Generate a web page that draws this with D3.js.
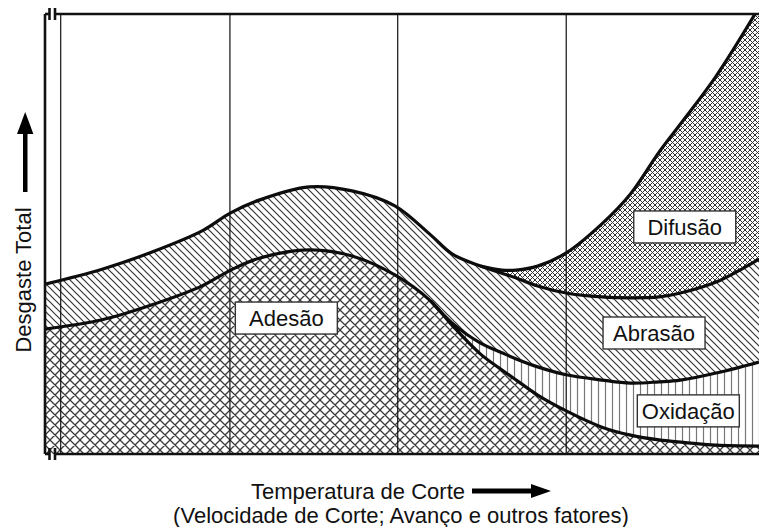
<!DOCTYPE html>
<html>
<head>
<meta charset="utf-8">
<script src="https://cdn.jsdelivr.net/npm/d3@7"></script>
<style>
  body { margin: 0; background: #fff; }
  svg text { font-family: "Liberation Sans", Arial, sans-serif; fill: #111; }
</style>
</head>
<body>
<svg id="chart" width="759" height="527"></svg>
<script>
// temperature axis (arbitrary units 0-100) and cumulative wear tops of each mechanism
const tempX    = [0, 8, 15, 22, 26, 30, 37, 43, 49, 54, 57, 61, 64, 66, 69, 73, 78, 82, 86, 89, 94, 100];
const adesao   = [28.4, 30.5, 33.9, 38.2, 41.8, 44.5, 46.4, 45.0, 40.7, 34.8, 29.3, 22.7, 19.1, 16.8, 13.4, 9.8, 6.1, 4.3, 3.2, 2.7, 2.0, 1.8];
const oxidacao = [28.4, 30.5, 33.9, 38.2, 41.8, 44.5, 46.4, 45.0, 40.7, 34.8, 29.8, 25.2, 23.0, 21.6, 19.8, 18.0, 16.8, 16.1, 16.4, 16.8, 18.4, 20.9];
const abrasao  = [38.6, 42.0, 45.9, 50.7, 54.8, 57.7, 60.7, 59.8, 56.4, 49.8, 45.5, 42.7, 41.1, 40.0, 38.2, 36.6, 35.7, 35.5, 35.7, 36.6, 39.1, 44.3];
const difusao  = [38.6, 42.0, 45.9, 50.7, 54.8, 57.7, 60.7, 59.8, 56.4, 49.8, 45.5, 42.7, 41.8, 41.8, 42.7, 45.7, 52.3, 59.1, 68.6, 75.0, 85.9, 101.5];

const dividers = [2.2, 25.9, 49.4, 73.0];

const labelNames = ["Adesão", "Difusão", "Abrasão", "Oxidação"];
const labelTemp  = [33.8, 89.6, 85.3, 90.1];
const labelWear  = [30.9, 51.6, 27.5, 9.8];

const svg = d3.select("#chart");
const pLeft = 45, pRight = 759, pTop = 14, pBottom = 454;

const x = d3.scaleLinear().domain([0, 100]).range([pLeft, pRight]);
const y = d3.scaleLinear().domain([0, 100]).range([pBottom, pTop]);

const defs = svg.append("defs");
defs.append("clipPath").attr("id", "plotClip")
  .append("rect").attr("x", pLeft).attr("y", pTop)
  .attr("width", pRight - pLeft).attr("height", pBottom - pTop);

function crossPattern(id, s, color, w) {
  defs.append("pattern").attr("id", id)
    .attr("patternUnits", "userSpaceOnUse").attr("width", s).attr("height", s)
    .append("path")
    .attr("d", `M${-s},${-s}L${2*s},${2*s} M0,${-s}L${2*s},${s} M${-s},0L${s},${2*s}` +
               ` M${2*s},${-s}L${-s},${2*s} M${s},${-s}L${-s},${s} M${2*s},0L0,${2*s}`)
    .attr("stroke", color).attr("stroke-width", w).attr("fill", "none");
}
crossPattern("pAdesao", 10, "#3a3a3a", 1.3);
crossPattern("pDifusao", 5, "#333", 1.0);

defs.append("pattern").attr("id", "pAbrasao")
  .attr("patternUnits", "userSpaceOnUse").attr("width", 7).attr("height", 7)
  .append("path")
  .attr("d", "M-7,-7L14,14 M0,-7L14,7 M-7,0L7,14")
  .attr("stroke", "#333").attr("stroke-width", 1.2).attr("fill", "none");

defs.append("pattern").attr("id", "pOxidacao")
  .attr("patternUnits", "userSpaceOnUse").attr("width", 7).attr("height", 7)
  .append("path")
  .attr("d", "M3.5,-1V8")
  .attr("stroke", "#777").attr("stroke-width", 1.2).attr("fill", "none");

const rows = tempX.map((t, i) => ({
  t, a: adesao[i], o: oxidacao[i], b: abrasao[i], d: difusao[i]
}));

const curve = d3.curveCatmullRom.alpha(0.5);
const band = (lo, hi) => d3.area().curve(curve)
  .x(d => x(d.t)).y0(d => lo === null ? y(0) : y(d[lo])).y1(d => y(d[hi]));

const plot = svg.append("g").attr("clip-path", "url(#plotClip)");
plot.append("rect").attr("x", pLeft).attr("y", pTop)
  .attr("width", pRight - pLeft).attr("height", pBottom - pTop).attr("fill", "#fff");

plot.append("path").datum(rows).attr("d", band(null, "a")).attr("fill", "url(#pAdesao)");
plot.append("path").datum(rows).attr("d", band("a", "o")).attr("fill", "url(#pOxidacao)");
plot.append("path").datum(rows).attr("d", band("o", "b")).attr("fill", "url(#pAbrasao)");
plot.append("path").datum(rows).attr("d", band("b", "d")).attr("fill", "url(#pDifusao)");

// vertical dividers
plot.selectAll("line.div").data(dividers).enter().append("line")
  .attr("x1", d => x(d)).attr("x2", d => x(d))
  .attr("y1", pTop).attr("y2", pBottom)
  .attr("stroke", "#111").attr("stroke-width", 1.2);

// boundary curves
const line = key => d3.line().curve(curve).x(d => x(d.t)).y(d => y(d[key]));
const drawCurve = (key, from) => plot.append("path")
  .datum(rows.filter(r => r.t >= from))
  .attr("d", line(key))
  .attr("fill", "none").attr("stroke", "#0d0d0d").attr("stroke-width", 3.2);
drawCurve("a", 0);
drawCurve("b", 0);
drawCurve("o", 54);
drawCurve("d", 61);

// frame with break marks
const frame = svg.append("g").attr("stroke", "#111").attr("fill", "none");
frame.append("line").attr("x1", pLeft).attr("x2", pLeft).attr("y1", pTop).attr("y2", pBottom).attr("stroke-width", 2.6);
frame.append("line").attr("x1", pLeft).attr("x2", 49).attr("y1", pTop).attr("y2", pTop).attr("stroke-width", 2.6);
frame.append("line").attr("x1", pLeft).attr("x2", 49).attr("y1", pBottom).attr("y2", pBottom).attr("stroke-width", 2.6);
frame.append("line").attr("x1", 55).attr("x2", pRight).attr("y1", pTop).attr("y2", pTop).attr("stroke-width", 2.6);
frame.append("line").attr("x1", 55).attr("x2", pRight).attr("y1", pBottom).attr("y2", pBottom).attr("stroke-width", 2.6);
[pTop, pBottom].forEach(yy => {
  [49.5, 55].forEach(xx => {
    frame.append("line").attr("x1", xx).attr("x2", xx)
      .attr("y1", yy - 6).attr("y2", yy + 6).attr("stroke-width", 2.6);
  });
});

// labels in boxes
const boxW = 102, boxH = 32;
labelNames.forEach((name, i) => {
  const cx = x(labelTemp[i]), cy = y(labelWear[i]);
  svg.append("rect")
    .attr("x", cx - boxW / 2).attr("y", cy - boxH / 2)
    .attr("width", boxW).attr("height", boxH)
    .attr("fill", "#fff").attr("stroke", "#333").attr("stroke-width", 1.4);
  svg.append("text")
    .attr("x", cx).attr("y", cy + 8)
    .attr("text-anchor", "middle").style("font-size", "22px")
    .text(name);
});

// axis titles with arrows
svg.append("text")
  .attr("transform", "translate(31,280) rotate(-90)")
  .attr("text-anchor", "middle").style("font-size", "22px")
  .text("Desgaste Total");
svg.append("rect").attr("x", 23).attr("y", 128).attr("width", 4.5).attr("height", 64).attr("fill", "#000");
svg.append("path").attr("d", "M25.2,112 L17,134 L33.4,134 Z").attr("fill", "#000");

svg.append("text")
  .attr("x", 465).attr("y", 499)
  .attr("text-anchor", "end").style("font-size", "22px")
  .text("Temperatura de Corte");
svg.append("rect").attr("x", 472).attr("y", 488.5).attr("width", 62).attr("height", 5).attr("fill", "#000");
svg.append("path").attr("d", "M551,491 L531,484 L531,498 Z").attr("fill", "#000");

svg.append("text")
  .attr("x", 401).attr("y", 523)
  .attr("text-anchor", "middle").style("font-size", "22px")
  .text("(Velocidade de Corte; Avanço e outros fatores)");
</script>
</body>
</html>
